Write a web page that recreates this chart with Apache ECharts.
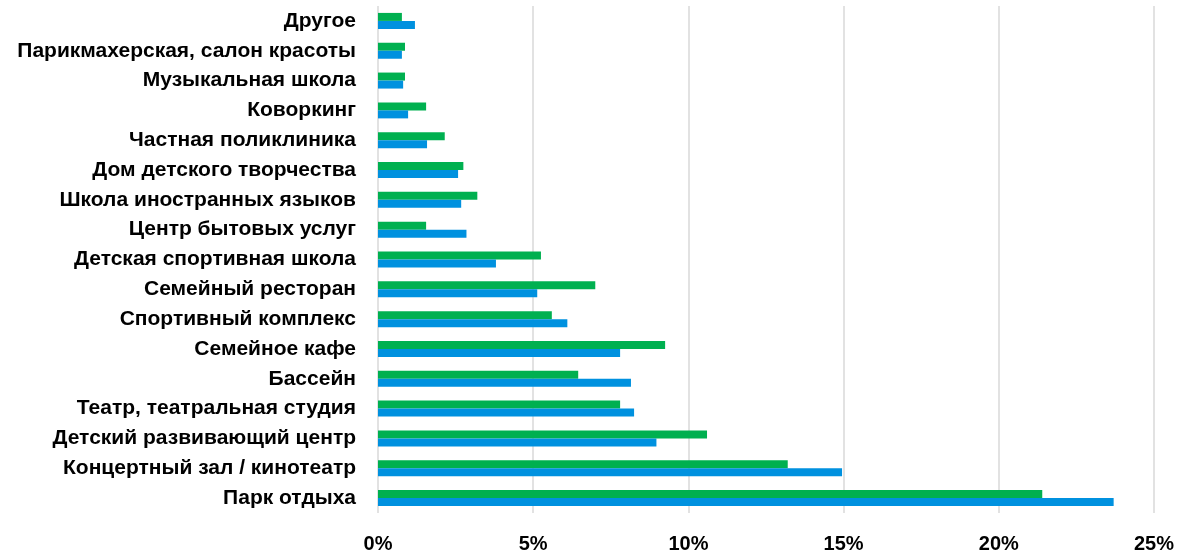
<!DOCTYPE html>
<html>
<head>
<meta charset="utf-8">
<script src="https://cdn.jsdelivr.net/npm/echarts@6/dist/echarts.min.js"></script>
<style>
html,body{margin:0;padding:0;background:#fff;}
#chart{width:1178px;height:554px;}
</style>
</head>
<body>
<div id="chart"></div>
<script>
// Categories listed bottom to top
const categories = [
  "Парк отдыха",
  "Концертный зал / кинотеатр",
  "Детский развивающий центр",
  "Театр, театральная студия",
  "Бассейн",
  "Семейное кафе",
  "Спортивный комплекс",
  "Семейный ресторан",
  "Детская спортивная школа",
  "Центр бытовых услуг",
  "Школа иностранных языков",
  "Дом детского творчества",
  "Частная поликлиника",
  "Коворкинг",
  "Музыкальная школа",
  "Парикмахерская, салон красоты",
  "Другое"
];
const greenValues = [21.4, 13.2, 10.6, 7.8, 6.45, 9.25, 5.6, 7.0, 5.25, 1.55, 3.2, 2.75, 2.15, 1.55, 0.87, 0.87, 0.77];
const blueValues  = [23.7, 14.95, 8.97, 8.25, 8.15, 7.8, 6.1, 5.13, 3.8, 2.85, 2.68, 2.58, 1.58, 0.97, 0.81, 0.77, 1.19];
const xTicks = { min: 0, max: 25, interval: 5 };

const chart = echarts.init(document.getElementById('chart'));
const font = "'Liberation Sans', Arial, sans-serif";
chart.setOption({
  animation: false,
  backgroundColor: '#fff',
  grid: { left: 378, right: 24, top: 6, bottom: 41, containLabel: false },
  xAxis: {
    type: 'value',
    min: xTicks.min, max: xTicks.max, interval: xTicks.interval,
    axisLine: { show: false },
    axisTick: { show: false },
    splitLine: { show: true, lineStyle: { color: '#d9d9d9', width: 1.5 } },
    axisLabel: {
      formatter: '{value}%',
      color: '#000', fontWeight: 'bold', fontSize: 20, fontFamily: font, margin: 21
    }
  },
  yAxis: {
    type: 'category',
    data: categories,
    axisLine: { show: false },
    axisTick: { show: false },
    axisLabel: {
      color: '#000', fontWeight: 'bold', fontSize: 21, fontFamily: font, margin: 22
    }
  },
  series: [
    {
      type: 'bar', name: 'green', data: greenValues,
      itemStyle: { color: '#00B050' },
      barWidth: 8, barGap: '0%'
    },
    {
      type: 'bar', name: 'blue', data: blueValues,
      itemStyle: { color: '#0091DF' },
      barWidth: 8, barGap: '0%'
    }
  ]
});
</script>
</body>
</html>
